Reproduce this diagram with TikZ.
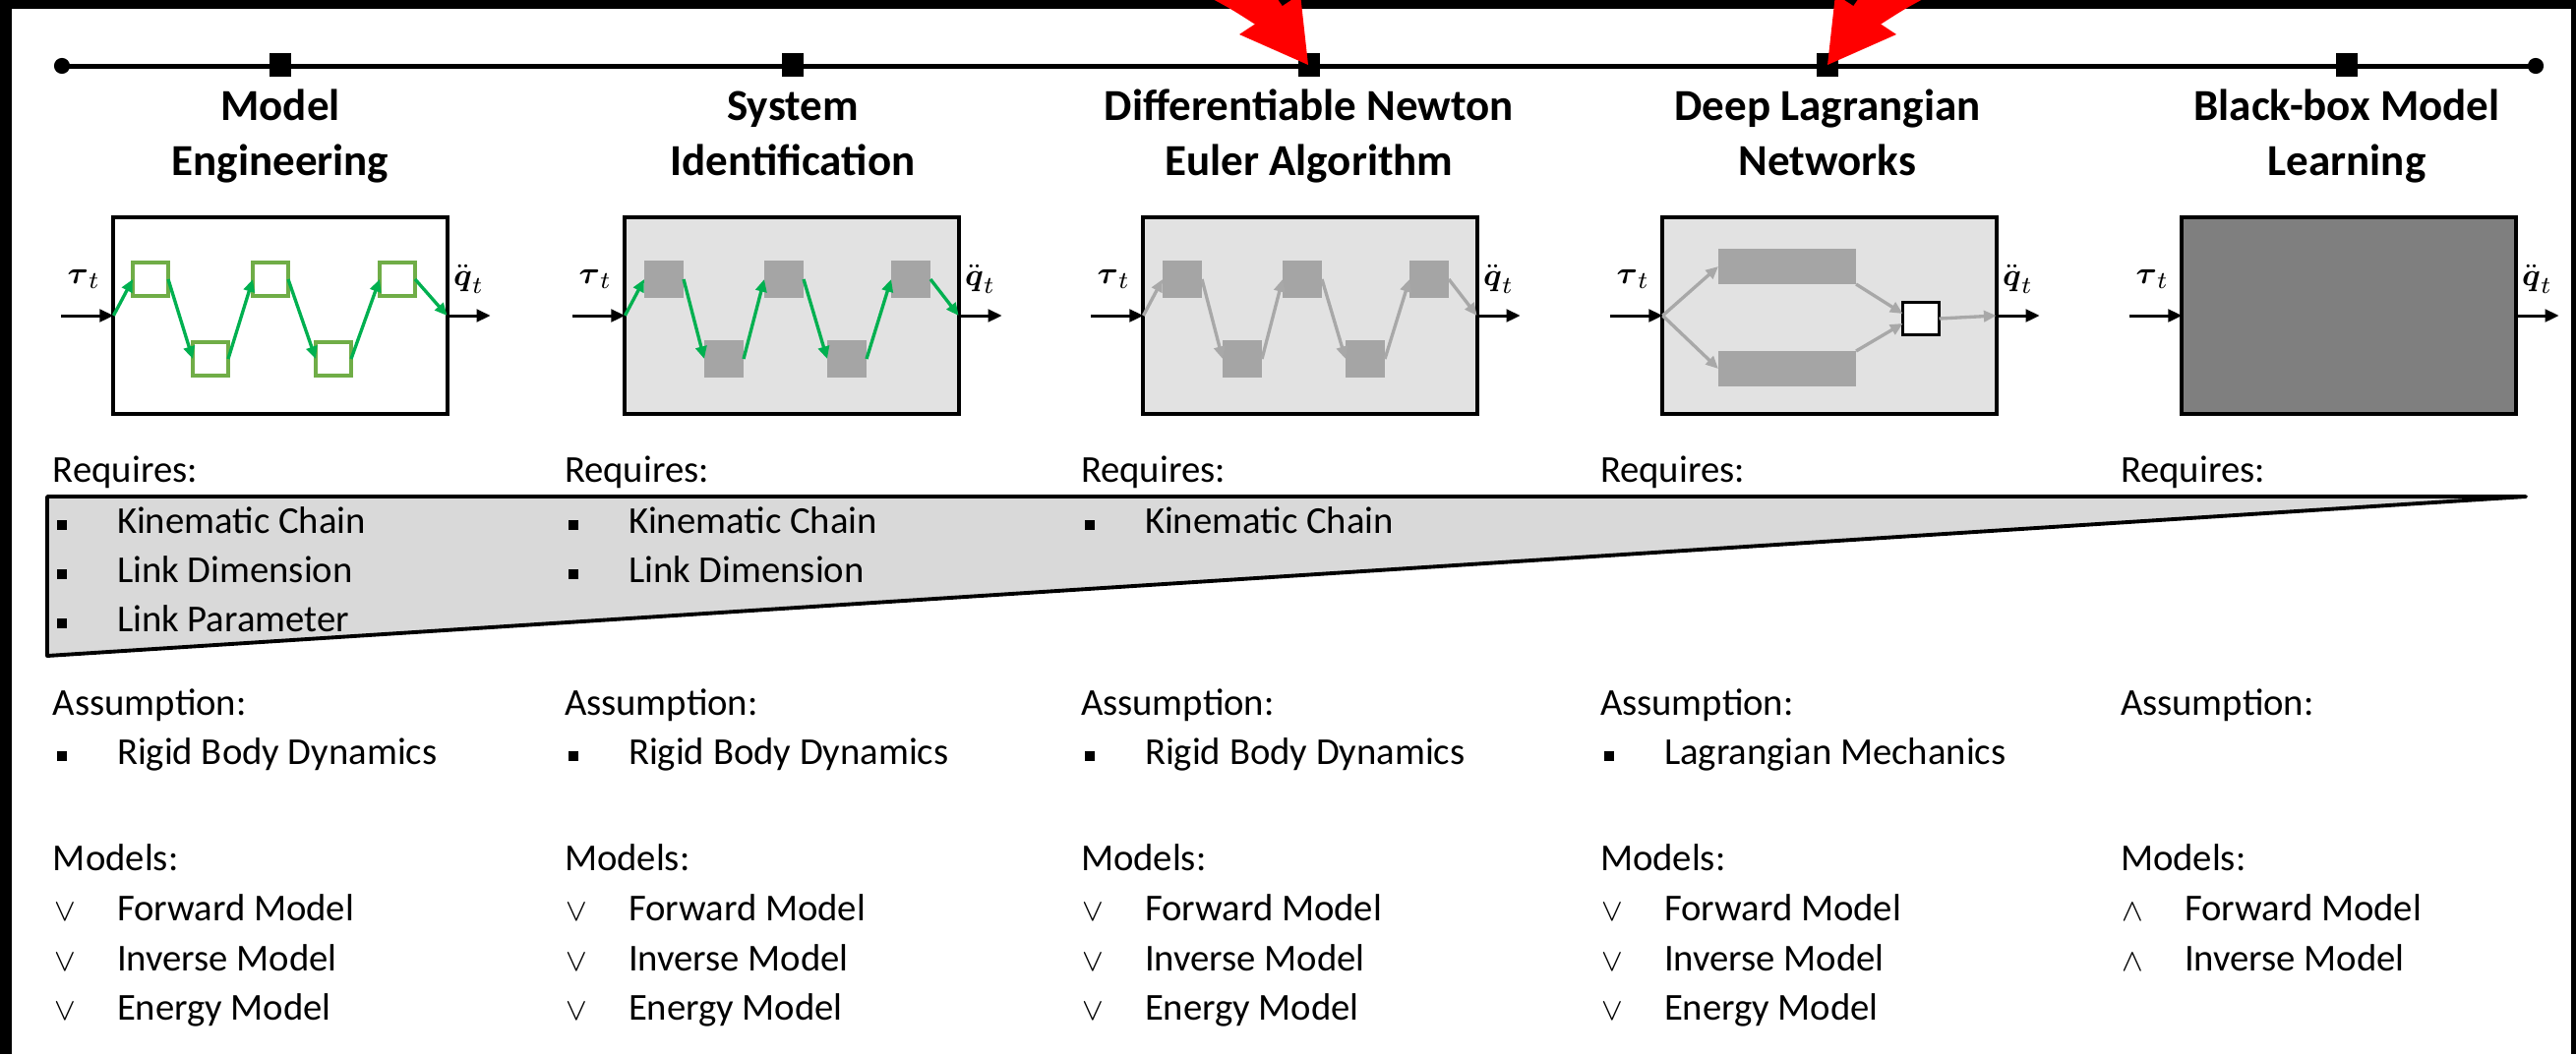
\documentclass[tikz,border=0pt]{standalone}
\usepackage{amsmath}
\usepackage{fontspec}
\setmainfont{Carlito}
\usetikzlibrary{arrows.meta,calc}

\definecolor{panelgrey}{RGB}{226,226,226}
\definecolor{blockgrey}{RGB}{165,165,165}
\definecolor{flowgrey}{RGB}{168,168,168}
\definecolor{blackboxgrey}{RGB}{127,127,127}
\definecolor{wedgegrey}{RGB}{217,217,217}
\definecolor{linkgreen}{RGB}{0,176,80}
\definecolor{framegreen}{RGB}{112,173,71}
\definecolor{pointerred}{RGB}{255,0,0}

\tikzset{
  every node/.style={inner sep=0pt, outer sep=0pt},
  modelbox/.style={draw=black, line width=1.14pt, minimum width=96.46pt, minimum height=56.62pt},
  linkframe/.style={draw=framegreen, line width=1.2pt, fill=white, minimum width=10.24pt, minimum height=9.67pt},
  linkblock/.style={fill=blockgrey, minimum width=11.38pt, minimum height=10.81pt},
  netblock/.style={fill=blockgrey, minimum width=39.83pt, minimum height=10.24pt},
  sumblock/.style={draw=black, line width=0.9pt, fill=white, minimum width=10.5pt, minimum height=9.4pt},
  milestone/.style={fill=black, minimum width=6.26pt, minimum height=6.83pt},
  enddot/.style={circle, fill=black, minimum size=4.6pt},
  signal/.style={line width=0.85pt, -{Triangle[length=4pt,width=3.6pt]}},
  flow/.style={line width=0.95pt, draw=#1, -{Triangle[length=3.6pt,width=3.2pt]}},
  varlabel/.style={font=\fontsize{9.5}{10}\selectfont},
  titletext/.style={font=\fontsize{12.8}{15.65}\selectfont\bfseries, align=center, anchor=base},
  colhead/.style={font=\fontsize{11}{13}\selectfont, anchor=base west},
  colitem/.style={font=\fontsize{11}{13}\selectfont, anchor=base west},
  bulletmark/.style={fill=black, minimum width=2.6pt, minimum height=2.8pt},
  tickmark/.style={font=\fontsize{9}{9}\selectfont, anchor=base},
}

% #1 name, #2 column x, #3 baseline, #4 text
\newcommand{\listentry}[4]{%
  \node[bulletmark] (#1b) at (#2+9,#3-8) {};
  \node[colitem] (#1) at (#2+65,#3) {#4};}
% #1 name, #2 column x, #3 baseline, #4 text, #5 symbol
\newcommand{\modelentry}[5]{%
  \node[tickmark] (#1m) at (#2+12,#3) {$#5$};
  \node[colitem] (#1) at (#2+65,#3) {#4};}

\begin{document}
\begin{tikzpicture}[x=0.01cm,y=-0.01cm]
\useasboundingbox (0,0) rectangle (2619,1072);
\fill[white] (0,0) rectangle (2619,1072);

% timeline with milestones
\node[enddot] (tstart) at (63,67) {};
\node[enddot] (tend) at (2578,67) {};
\draw[line width=1.42pt] (tstart.center) -- (tend.center);
\foreach \i/\c in {1/285,2/806,3/1331,4/1858,5/2386}
  \node[milestone] (m\i) at (\c,66) {};

% approach titles (anchored on the baseline of the second line)
\node[titletext] (title1) at (285,178) {Model\\Engineering};
\node[titletext] (title2) at (806,178) {System\\Identification};
\node[titletext] (title3) at (1331,178) {Differentiable Newton\\Euler Algorithm};
\node[titletext] (title4) at (1858,178) {Deep Lagrangian\\Networks};
\node[titletext] (title5) at (2386,178) {Black-box Model\\Learning};

% model boxes
\node[modelbox, fill=white] (box1) at (285,321) {};
\node[modelbox, fill=panelgrey] (box2) at (805,321) {};
\node[modelbox, fill=panelgrey] (box3) at (1332,321) {};
\node[modelbox, fill=panelgrey] (box4) at (1860,321) {};
\node[modelbox, fill=blackboxgrey] (box5) at (2388,321) {};

% kinematic chains
\foreach \k/\dx/\dy in {1/-132/-37,2/-71/44,3/-10/-37,4/54/44,5/119/-37}
  \node[linkframe] (s1\k) at ($(box1.center)+(\dx,\dy)$) {};
\foreach \k/\dx/\dy in {1/-130/-37,2/-69/44,3/-8/-37,4/56/44,5/121/-37}
  \node[linkblock] (s2\k) at ($(box2.center)+(\dx,\dy)$) {};
\foreach \k/\dx/\dy in {1/-130/-37,2/-69/44,3/-8/-37,4/56/44,5/121/-37}
  \node[linkblock] (s3\k) at ($(box3.center)+(\dx,\dy)$) {};

\foreach \b/\col in {1/linkgreen,2/linkgreen,3/flowgrey}{
  \draw[flow=\col] (box\b.west) -- (s\b1.west);
  \draw[flow=\col] (s\b1.east) -- (s\b2.west);
  \draw[flow=\col] (s\b2.east) -- (s\b3.west);
  \draw[flow=\col] (s\b3.east) -- (s\b4.west);
  \draw[flow=\col] (s\b4.east) -- (s\b5.west);
  \draw[flow=\col] (s\b5.east) -- (box\b.east);
}

% Lagrangian network
\node[netblock] (nb1) at ($(box4.center)+(-43,-50)$) {};
\node[netblock] (nb2) at ($(box4.center)+(-43,54)$) {};
\node[sumblock] (sum) at ($(box4.center)+(93,3)$) {};
\draw[flow=flowgrey] (box4.west) -- (nb1.west);
\draw[flow=flowgrey] (box4.west) -- (nb2.west);
\draw[flow=flowgrey] (nb1.south east) -- ($(sum.west)+(0,-5)$);
\draw[flow=flowgrey] (nb2.north east) -- ($(sum.west)+(0,5)$);
\draw[flow=flowgrey] (sum.east) -- (box4.east);

% inputs and outputs
\foreach \i in {1,...,5}{
  \coordinate (in\i) at ($(box\i.west)+(-53,0)$);
  \coordinate (out\i) at ($(box\i.east)+(44,0)$);
  \draw[signal] (in\i) -- (box\i.west);
  \draw[signal] (box\i.east) -- (out\i);
  \node[varlabel] (tau\i) at ($(box\i.west)+(-30,-37)$) {$\boldsymbol{\tau}_t$};
  \node[varlabel] (acc\i) at ($(box\i.east)+(22,-37)$) {$\ddot{\boldsymbol{q}}_t$};
}

% requirement wedge
\coordinate (wTL) at (48,505);
\coordinate (wTR) at (2568,505);
\coordinate (wBL) at (48,667);
\filldraw[fill=wedgegrey, draw=black, line width=1.1pt, line join=round] (wTL) -- (wTR) -- (wBL) -- cycle;
\draw[line width=1.4pt] (wTL) -- (wTR);

% column texts
\foreach \i/\x in {1/54,2/574,3/1099,4/1627,5/2156}{
  \node[colhead] (req\i) at (\x,490) {Requires:};
  \node[colhead] (asm\i) at (\x,727) {Assumption:};
  \node[colhead] (mod\i) at (\x,885) {Models:};
}

\listentry{ra1}{54}{542}{Kinematic Chain}
\listentry{ra2}{54}{592}{Link Dimension}
\listentry{ra3}{54}{642}{Link Parameter}
\listentry{rb1}{574}{542}{Kinematic Chain}
\listentry{rb2}{574}{592}{Link Dimension}
\listentry{rc1}{1099}{542}{Kinematic Chain}

\listentry{aa}{54}{777}{Rigid Body Dynamics}
\listentry{ab}{574}{777}{Rigid Body Dynamics}
\listentry{ac}{1099}{777}{Rigid Body Dynamics}
\listentry{ad}{1627}{777}{Lagrangian Mechanics}

\foreach \n/\x in {ma/54,mb/574,mc/1099,md/1627}{
  \modelentry{\n1}{\x}{936}{Forward Model}{\vee}
  \modelentry{\n2}{\x}{987}{Inverse Model}{\vee}
  \modelentry{\n3}{\x}{1037}{Energy Model}{\vee}
}
\modelentry{me1}{2156}{936}{Forward Model}{\wedge}
\modelentry{me2}{2156}{987}{Inverse Model}{\wedge}

% frame
\fill[black] (0,0) rectangle (2619,9);
\fill[black] (0,0) rectangle (12,1072);
\fill[black] (2614,0) rectangle (2619,1072);

% pointer arrows
\begin{scope}
  \clip (0,0) rectangle (2619,1072);
  \fill[pointerred] (1278,26) .. controls (1250,8) .. (1212,-12) -- (1270,-25) .. controls (1294,-8) .. (1305,8) -- cycle;
  \fill[pointerred] (1330,66) -- (1260,35) -- (1322,-6) -- cycle;
  \fill[pointerred] (1910,26) .. controls (1938,8) .. (1976,-12) -- (1918,-25) .. controls (1894,-8) .. (1883,8) -- cycle;
  \fill[pointerred] (1858,66) -- (1928,35) -- (1866,-6) -- cycle;
\end{scope}
\end{tikzpicture}
\end{document}
